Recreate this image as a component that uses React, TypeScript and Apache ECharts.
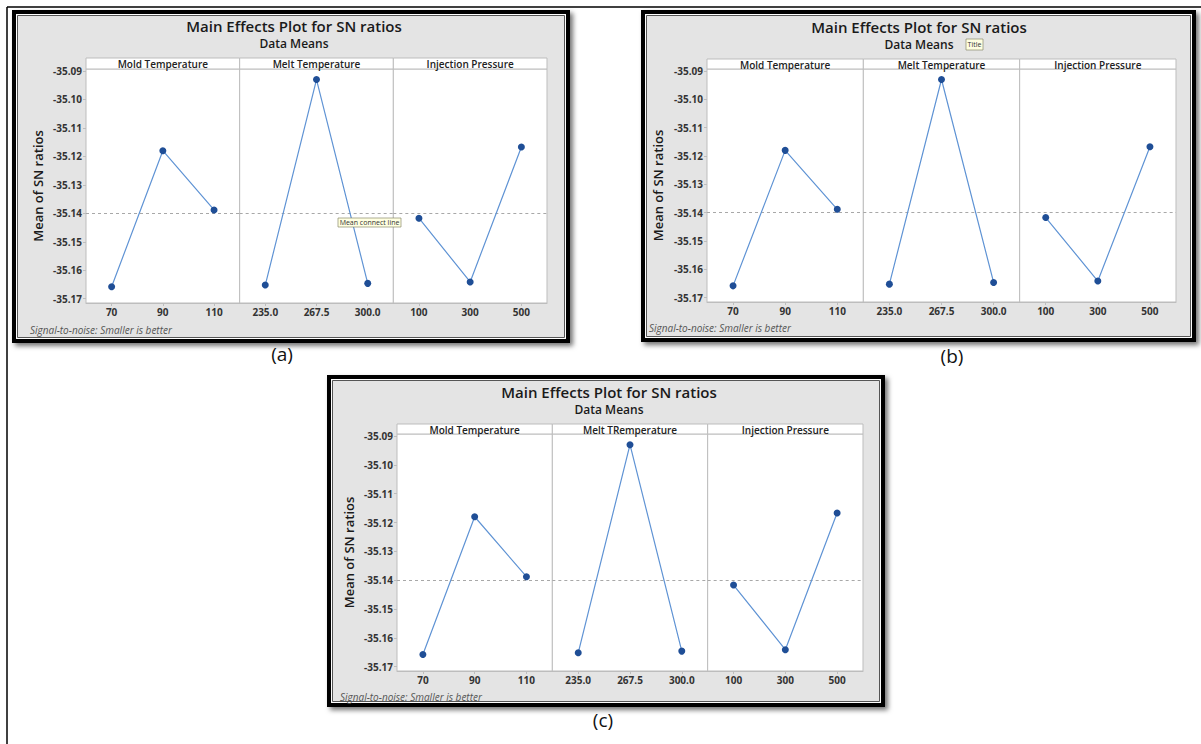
import React, { useEffect, useRef } from 'react';
import * as echarts from 'echarts';

// ---- data ----
const moldLevels = ['70', '90', '110'];
const meltLevels = ['235.0', '267.5', '300.0'];
const injLevels = ['100', '300', '500'];
const moldSN = [-35.1658, -35.118, -35.1388];
const meltSN = [-35.1652, -35.093, -35.1646];
const injSN = [-35.1417, -35.1641, -35.1167];
const meanSN = -35.1408;
const yTicks = [-35.17, -35.16, -35.15, -35.14, -35.13, -35.12, -35.11, -35.1, -35.09];
const factorsAB = ['Mold Temperature', 'Melt Temperature', 'Injection Pressure'];
const factorsC = ['Mold Temperature', 'Melt TRemperature', 'Injection Pressure'];
const titleText = 'Main Effects Plot for SN ratios';
const subtitleText = 'Data Means';
const yNameText = 'Mean of SN ratios';
const footText = 'Signal-to-noise: Smaller is better';
const Y_MIN = -35.1715;
const Y_MAX = -35.0893;

const FONT = '"Open Sans", "Noto Sans", sans-serif';

const levelSets = [moldLevels, meltLevels, injLevels];
const valueSets = [moldSN, meltSN, injSN];

const panels = [
  {
    frame: [12, 10, 558, 333], plot: [86, 69, 461, 234], stripTop: 58,
    titleX: 294, titleY: 26, subY: 43, footX: 30, footY: 330, yNameX: 38,
    label: '(a)', labelX: 282, labelY: 354, factors: factorsAB,
    tip: { text: 'Mean connect line', x: 338, y: 218, w: 63, h: 9 },
  },
  {
    frame: [641, 10, 555, 332], plot: [707, 69, 469, 233], stripTop: 59,
    titleX: 919, titleY: 27, subY: 44, footX: 649, footY: 328, yNameX: 658,
    label: '(b)', labelX: 952, labelY: 356, factors: factorsAB,
    tip: { text: 'Title', x: 966, y: 39, w: 17, h: 11 },
  },
  {
    frame: [327, 375, 558, 332], plot: [397, 434, 466, 237], stripTop: 424,
    titleX: 609, titleY: 392, subY: 409, footX: 340, footY: 697, yNameX: 349,
    label: '(c)', labelX: 603, labelY: 720, factors: factorsC,
    tip: null as any,
  },
];

function buildOption() {
  const grid: any[] = [];
  const xAxis: any[] = [];
  const yAxis: any[] = [];
  const series: any[] = [];
  const graphic: any[] = [];

  // page lines
  graphic.push({ type: 'line', shape: { x1: 7, y1: 7, x2: 1201, y2: 7 }, style: { stroke: '#000', lineWidth: 1.5 }, z: 0 });
  graphic.push({ type: 'line', shape: { x1: 7, y1: 7, x2: 7, y2: 744 }, style: { stroke: '#000', lineWidth: 1.5 }, z: 0 });

  panels.forEach((p) => {
    const [fx, fy, fw, fh] = p.frame;
    const [pl, pt, pw, ph] = p.plot;
    const sw = pw / 3;
    graphic.push({
      type: 'rect', shape: { x: fx, y: fy, width: fw, height: fh },
      style: { fill: '#e4e4e4', shadowBlur: 5, shadowOffsetX: 3, shadowOffsetY: 3, shadowColor: 'rgba(0,0,0,0.55)' }, z: 0,
    });
    graphic.push({
      type: 'rect', shape: { x: fx + 2, y: fy + 2, width: fw - 4, height: fh - 4 },
      style: { fill: 'none', stroke: '#000', lineWidth: 4 }, z: 0,
    });
    graphic.push({
      type: 'rect', shape: { x: fx + 4.5, y: fy + 4.5, width: fw - 9, height: fh - 9 },
      style: { fill: 'none', stroke: '#fff', lineWidth: 1 }, z: 0,
    });
    graphic.push({
      type: 'rect', shape: { x: fx + 5.5, y: fy + 5.5, width: fw - 11, height: fh - 11 },
      style: { fill: 'none', stroke: '#555', lineWidth: 1 }, z: 0,
    });
    // titles
    graphic.push({ type: 'text', x: p.titleX, y: p.titleY, z: 10, style: { text: titleText, font: `600 15px ${FONT}`, lineHeight: 14, fill: '#1a1a1a', align: 'center', verticalAlign: 'middle' } });
    graphic.push({ type: 'text', x: p.titleX, y: p.subY, z: 10, style: { text: subtitleText, font: `600 12px ${FONT}`, lineHeight: 12, fill: '#1a1a1a', align: 'center', verticalAlign: 'middle' } });
    // y name
    graphic.push({ type: 'text', x: p.yNameX, y: pt + ph / 2, rotation: Math.PI / 2, z: 10, style: { text: yNameText, font: `600 13px ${FONT}`, fill: '#1a1a1a', align: 'center', verticalAlign: 'middle' } });
    // footnote
    graphic.push({ type: 'text', x: p.footX, y: p.footY, z: 10, style: { text: footText, font: `italic 10px ${FONT}`, fill: '#555', align: 'left', verticalAlign: 'middle' } });
    // label
    graphic.push({ type: 'text', x: p.labelX, y: p.labelY, z: 10, style: { text: p.label, font: `400 19px ${FONT}`, fill: '#111', align: 'center', verticalAlign: 'middle' } });

    for (let s = 0; s < 3; s++) {
      const gi = grid.length;
      const left = pl + s * sw;
      // strip header
      graphic.push({ type: 'rect', shape: { x: left, y: p.stripTop, width: sw, height: pt - p.stripTop }, style: { fill: '#fff', stroke: '#bdbdbd', lineWidth: 1 }, z: 1 });
      graphic.push({ type: 'text', x: left + sw / 2, y: (p.stripTop + pt) / 2 + 0.5, z: 10, style: { text: p.factors[s], font: `600 10px ${FONT}`, lineHeight: 10, fill: '#222', align: 'center', verticalAlign: 'middle' } });

      grid.push({
        left, top: pt, width: sw, height: ph, show: true, backgroundColor: '#fff',
        borderColor: '#bdbdbd', borderWidth: 1, containLabel: false, outerBoundsMode: 'none', z: 1,
      });
      xAxis.push({
        type: 'category', gridIndex: gi, data: levelSets[s], boundaryGap: true,
        axisLine: { show: true, lineStyle: { color: '#bdbdbd' } },
        axisTick: { show: true, alignWithLabel: true, length: 3, lineStyle: { color: '#bdbdbd' } },
        axisLabel: { fontSize: 10, fontWeight: 'bold', color: '#333', margin: 4, fontFamily: FONT },
        splitLine: { show: false },
      });
      yAxis.push({
        type: 'value', gridIndex: gi, min: Y_MIN, max: Y_MAX, show: s === 0,
        axisLine: { show: true, lineStyle: { color: '#bdbdbd' } },
        axisTick: { show: true, length: 3, customValues: yTicks, lineStyle: { color: '#bdbdbd' } },
        axisLabel: { show: true, customValues: yTicks, fontSize: 10, fontWeight: 'bold', color: '#333', margin: 4, fontFamily: FONT, formatter: (v: number) => v.toFixed(2) },
        splitLine: { show: false },
      });
      series.push({
        type: 'line', xAxisIndex: gi, yAxisIndex: gi, data: valueSets[s],
        symbol: 'circle', symbolSize: 7, showSymbol: true,
        itemStyle: { color: '#1f4e96' },
        lineStyle: { color: '#5f93d4', width: 1.2 },
        z: 3,
        markLine: {
          silent: true, symbol: ['none', 'none'], label: { show: false },
          lineStyle: { color: '#a8a8a8', type: [3, 3], width: 1 },
          data: [{ yAxis: meanSN }], z: 2,
        },
      });
    }

    if (p.tip) {
      graphic.push({ type: 'rect', shape: { x: p.tip.x, y: p.tip.y, width: p.tip.w, height: p.tip.h }, style: { fill: '#ffffe1', stroke: '#8a8a6a', lineWidth: 0.7 }, z: 20 });
      graphic.push({ type: 'text', x: p.tip.x + p.tip.w / 2, y: p.tip.y + p.tip.h / 2, z: 21, style: { text: p.tip.text, font: `400 7px ${FONT}`, lineHeight: 7, fill: '#333', align: 'center', verticalAlign: 'middle' } });
    }
  });

  return {
    animation: false,
    backgroundColor: '#fff',
    grid, xAxis, yAxis, series, graphic,
  };
}

export default function App() {
  const ref = useRef<HTMLDivElement>(null);
  useEffect(() => {
    document.body.style.margin = '0';
    if (!ref.current) return;
    const chart = echarts.init(ref.current, undefined, { renderer: 'svg' });
    chart.setOption(buildOption() as any);
    return () => chart.dispose();
  }, []);
  return <div ref={ref} style={{ width: 1201, height: 744 }} />;
}
